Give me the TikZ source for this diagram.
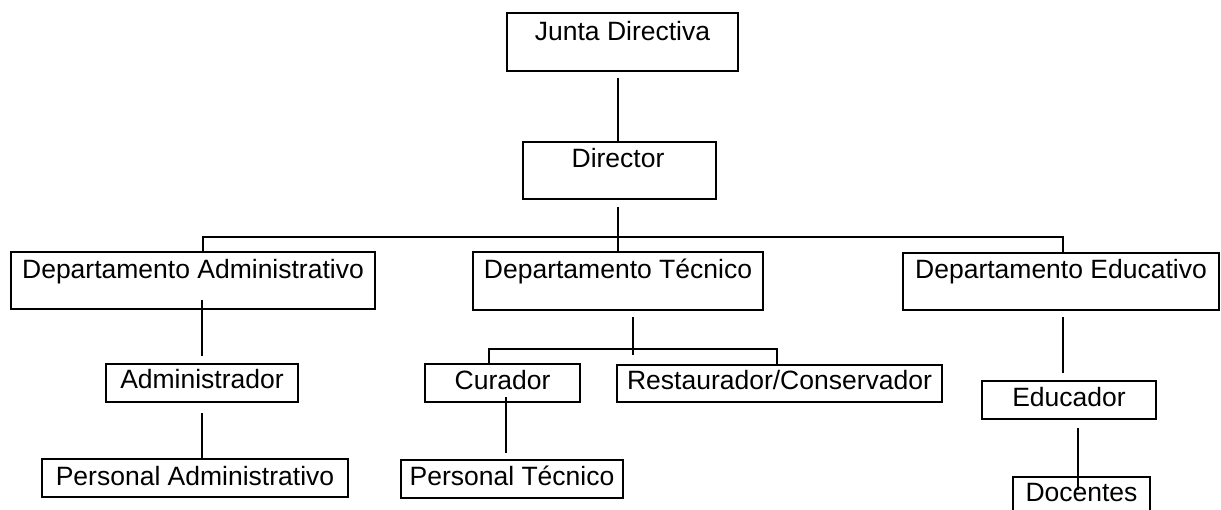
\documentclass[tikz,border=0pt]{standalone}
\usepackage{fontspec}
\setmainfont{Liberation Sans}
\begin{document}
\begin{tikzpicture}[x=1pt,y=-1pt,
  box/.style={draw=black, line width=1.8pt, inner sep=0pt, fill=none},
  txt/.style={anchor=base, inner sep=0pt, font=\fontsize{26.5}{30}\selectfont},
  conn/.style={draw=black, line width=2pt}]
\useasboundingbox (0,0) rectangle (1221,509);
% boxes
\node[box, minimum width=231pt, minimum height=58pt] (jd) at (622.5,42) {};
\node[box, minimum width=193pt, minimum height=57pt] (dir) at (619.5,170.5) {};
\node[box, minimum width=364pt, minimum height=57pt] (dadm) at (193,280.5) {};
\node[box, minimum width=290pt, minimum height=58pt] (dtec) at (618,281) {};
\node[box, minimum width=316pt, minimum height=57pt] (dedu) at (1061,281.5) {};
\node[box, minimum width=192pt, minimum height=38pt] (adma) at (202,383) {};
\node[box, minimum width=306pt, minimum height=38pt] (padm) at (195,478) {};
\node[box, minimum width=155pt, minimum height=38pt] (cur) at (502.5,383) {};
\node[box, minimum width=325pt, minimum height=37pt] (rest) at (779.5,383.5) {};
\node[box, minimum width=222pt, minimum height=38pt] (ptec) at (512,479) {};
\node[box, minimum width=174pt, minimum height=38pt] (educ) at (1069,400) {};
\node[box, minimum width=137pt, minimum height=38pt] (doc) at (1081.5,496) {};
% texts
\node[txt] (jdt) at (622.5,40) {Junta Directiva};
\node[txt] (dirt) at (618,167) {Director};
\node[txt] (dadmt) at (193,278) {Departamento Administrativo};
\node[txt] (dtect) at (618,278) {Departamento Técnico};
\node[txt] (dedut) at (1061,278) {Departamento Educativo};
\node[txt] (admat) at (202,388.5) {Administrador};
\node[txt] (padmt) at (195,485) {Personal Administrativo};
\node[txt] (curt) at (502.5,389) {Curador};
\node[txt] (restt) at (779.5,389) {Restaurador/Conservador};
\node[txt] (ptect) at (512,485) {Personal Técnico};
\node[txt] (educt) at (1069,406) {Educador};
\node[txt] (doct) at (1081.5,501) {Docentes};
% bus coordinates
\coordinate (busL) at (203,237);
\coordinate (busR) at (1063,237);
\coordinate (subL) at (489,349);
\coordinate (subR) at (777,349);
% connectors
\draw[conn, shorten >=7pt] (dir.north -| 618,0) -- (618,71);
\draw[conn, shorten >=7pt] (dtec.north) -- (dtec.north |- dir.south);
\draw[conn] (busL |- dadm.north) -- (busL) -- (busR) -- (busR |- dedu.north);
\draw[conn, shorten >=7pt] (202,300) -- (adma.north);
\draw[conn, shorten <=10pt, shorten >=1pt] (adma.south) -- (202,459);
\draw[conn] (633,317) -- (633,355);
\draw[conn] (subL |- cur.north) -- (subL) -- (subR) -- (subR |- rest.north);
\draw[conn] (506,397) -- (506,453);
\draw[conn, shorten >=7pt] (1063,317) -- (educ.north -| 1063,0);
\draw[conn] (1078,428) -- (1078,490);
\end{tikzpicture}
\end{document}
